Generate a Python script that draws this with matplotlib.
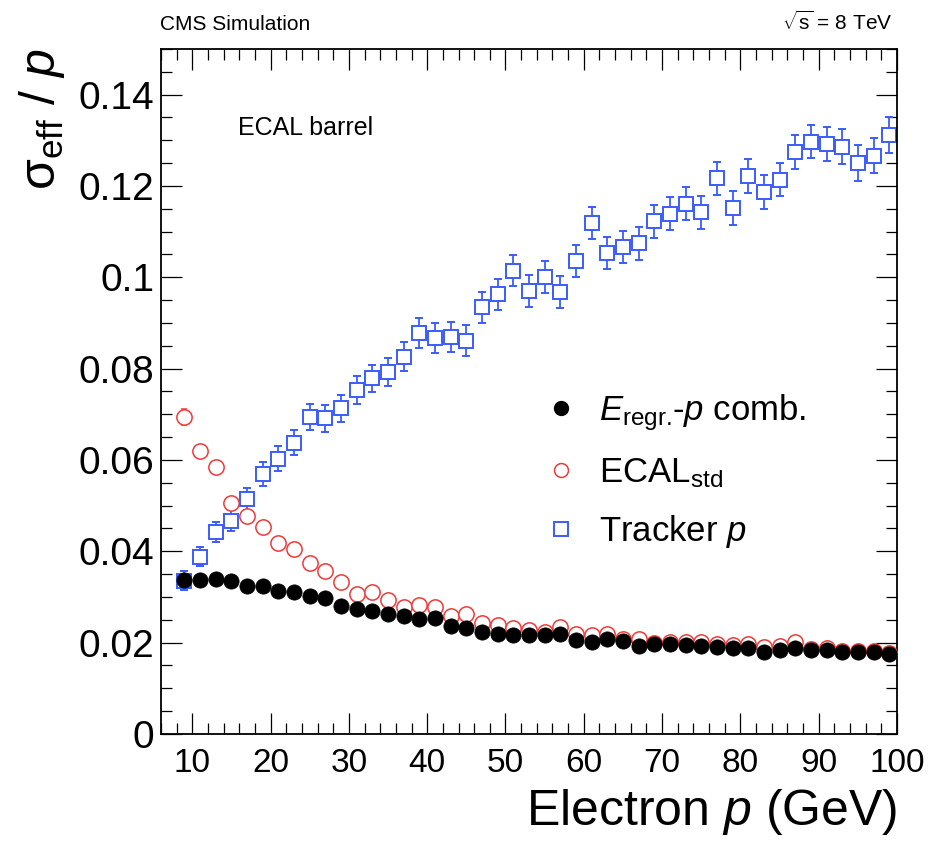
import matplotlib
matplotlib.use("Agg")
import matplotlib.pyplot as plt
from matplotlib.lines import Line2D
from matplotlib.ticker import MultipleLocator, FuncFormatter

plt.rcParams["font.family"] = ["Liberation Sans", "DejaVu Sans"]
plt.rcParams["mathtext.fontset"] = "custom"
plt.rcParams["mathtext.rm"] = "Liberation Sans"
plt.rcParams["mathtext.it"] = "Liberation Sans:italic"
plt.rcParams["mathtext.bf"] = "Liberation Sans:bold"

# ---------------- data ----------------
momentum = [9, 11, 13, 15, 17, 19, 21, 23, 25, 27, 29, 31, 33, 35, 37, 39,
            41, 43, 45, 47, 49, 51, 53, 55, 57, 59, 61, 63, 65, 67, 69, 71,
            73, 75, 77, 79, 81, 83, 85, 87, 89, 91, 93, 95, 97, 99]

comb = [0.0337, 0.0337, 0.0339, 0.0335, 0.0325, 0.0323, 0.0314, 0.0311,
        0.0303, 0.0297, 0.0281, 0.0274, 0.0270, 0.0262, 0.0258, 0.0251,
        0.0255, 0.0237, 0.0233, 0.0224, 0.0218, 0.0216, 0.0217, 0.0217,
        0.0220, 0.0205, 0.0202, 0.0209, 0.0203, 0.0193, 0.0196, 0.0197,
        0.0195, 0.0193, 0.0190, 0.0189, 0.0188, 0.0180, 0.0184, 0.0188,
        0.0183, 0.0183, 0.0179, 0.0179, 0.0179, 0.0175]
comb_err = [0.0004] * 46

ecal = [0.0694, 0.0619, 0.0585, 0.0506, 0.0478, 0.0453, 0.0419, 0.0405,
        0.0375, 0.0356, 0.0332, 0.0307, 0.0310, 0.0294, 0.0279, 0.0282,
        0.0277, 0.0258, 0.0262, 0.0242, 0.0239, 0.0233, 0.0228, 0.0224,
        0.0235, 0.0219, 0.0217, 0.0220, 0.0209, 0.0207, 0.0199, 0.0201,
        0.0201, 0.0202, 0.0198, 0.0195, 0.0197, 0.0191, 0.0192, 0.0201,
        0.0187, 0.0188, 0.0182, 0.0182, 0.0182, 0.0177]
ecal_err = [0.0017, 0.0012, 0.0011, 0.0010, 0.0009, 0.0008, 0.0008, 0.0007,
            0.0007, 0.0006, 0.0006, 0.0006, 0.0006, 0.0005, 0.0005, 0.0005,
            0.0005, 0.0005, 0.0005, 0.0005, 0.0005, 0.0005, 0.0005, 0.0005,
            0.0005, 0.0005, 0.0005, 0.0005, 0.0005, 0.0005, 0.0005, 0.0005,
            0.0005, 0.0005, 0.0005, 0.0005, 0.0005, 0.0005, 0.0005, 0.0005,
            0.0005, 0.0005, 0.0005, 0.0005, 0.0005, 0.0005]

tracker = [0.0336, 0.0388, 0.0443, 0.0467, 0.0514, 0.0569, 0.0603, 0.0638,
           0.0694, 0.0691, 0.0713, 0.0753, 0.0779, 0.0792, 0.0826, 0.0879,
           0.0867, 0.0869, 0.0861, 0.0934, 0.0963, 0.1014, 0.0969, 0.1000,
           0.0967, 0.1036, 0.1119, 0.1054, 0.1066, 0.1075, 0.1123, 0.1139,
           0.1161, 0.1142, 0.1217, 0.1152, 0.1222, 0.1186, 0.1214, 0.1275,
           0.1297, 0.1292, 0.1286, 0.1251, 0.1266, 0.1311]
tracker_err = [0.0021, 0.0021, 0.0022, 0.0023, 0.0024, 0.0027, 0.0027, 0.0028,
               0.0028, 0.0029, 0.0029, 0.0030, 0.0030, 0.0031, 0.0032, 0.0033,
               0.0033, 0.0033, 0.0034, 0.0034, 0.0034, 0.0034, 0.0035, 0.0035,
               0.0035, 0.0035, 0.0035, 0.0035, 0.0035, 0.0036, 0.0036, 0.0036,
               0.0036, 0.0036, 0.0036, 0.0037, 0.0037, 0.0037, 0.0037, 0.0037,
               0.0036, 0.0038, 0.0038, 0.0039, 0.0038, 0.0039]

x_ticks = [10, 20, 30, 40, 50, 60, 70, 80, 90, 100]
y_ticks = [0, 0.02, 0.04, 0.06, 0.08, 0.1, 0.12, 0.14]

labels = [r"$E_{\mathrm{regr.}}\!$-$p$ comb.", r"ECAL$_{\mathrm{std}}$", r"Tracker $p$"]

# ---------------- styles ----------------
BLUE = "#3a5cff"
RED = "#ee3a3a"

fig = plt.figure(figsize=(9.37, 8.43), dpi=100)
ax = fig.add_axes([0.1718, 0.1293, 0.7855, 0.8126])

ax.errorbar(momentum, tracker, yerr=tracker_err, fmt="s", color=BLUE,
            mfc="white", mec=BLUE, ms=10.5, mew=1.4, elinewidth=1.3,
            capsize=3, capthick=1.3, zorder=2)
ax.errorbar(momentum, ecal, yerr=ecal_err, fmt="o", color=RED,
            mfc="white", mec=RED, ms=11, mew=1.1, elinewidth=1.1,
            capsize=2.5, capthick=1.1, zorder=3)
ax.errorbar(momentum, comb, yerr=comb_err, fmt="o", color="black",
            mfc="black", mec="black", ms=11, mew=0.5, elinewidth=1.0,
            capsize=0, zorder=4)

ax.set_xlim(6, 100)
ax.set_ylim(0, 0.15)
ax.set_xticks(x_ticks)
ax.set_yticks(y_ticks)
ax.xaxis.set_minor_locator(MultipleLocator(2))
ax.yaxis.set_minor_locator(MultipleLocator(0.005))
ax.yaxis.set_major_formatter(FuncFormatter(lambda v, _: "0" if abs(v) < 1e-12 else f"{v:g}"))
ax.xaxis.set_major_formatter(FuncFormatter(lambda v, _: f"{v:g}"))

ax.tick_params(which="both", direction="in", top=True, right=True, width=0.9)
ax.tick_params(which="major", length=15)
ax.tick_params(which="minor", length=8)
ax.tick_params(axis="y", which="major", labelsize=28, pad=5)
ax.tick_params(axis="x", which="major", labelsize=24, pad=10)
for s in ax.spines.values():
    s.set_linewidth(1.3)

ax.set_xlabel(r"Electron $p$ (GeV)", fontsize=36, loc="right", labelpad=6)
ax.set_ylabel(r"$\mathrm{\sigma}_{\mathrm{eff}}$ / $p$", fontsize=36, loc="top", labelpad=8)

ax.text(0.105, 0.885, "ECAL barrel", transform=ax.transAxes, fontsize=18,
        ha="left", va="center")

fig.text(160 / 937, 1 - 30 / 843, "CMS Simulation", fontsize=15, ha="left", va="baseline")
fig.text(893 / 937, 1 - 30 / 843, r"$\sqrt{\mathrm{s}}$ = 8 TeV", fontsize=15, ha="right", va="baseline")

handles = [
    Line2D([], [], ls="none", marker="o", color="black", ms=10, mfc="black"),
    Line2D([], [], ls="none", marker="o", color=RED, mfc="none", ms=10, mew=1.1),
    Line2D([], [], ls="none", marker="s", color=BLUE, mfc="none", ms=9.5, mew=1.4),
]
ax.legend(handles, labels, loc="upper left", bbox_to_anchor=(0.487, 0.534),
          frameon=False, fontsize=25, handlelength=1.0, handletextpad=0.6,
          labelspacing=0.66, borderpad=0.2)

fig.savefig("out.png", dpi=100)
